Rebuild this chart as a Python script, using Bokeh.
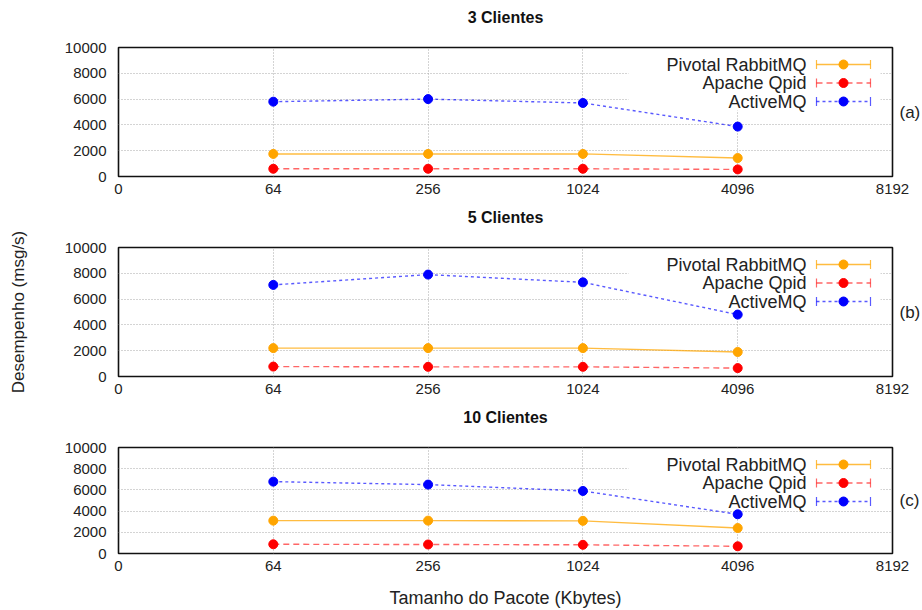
from bokeh.plotting import figure
from bokeh.layouts import column
from bokeh.models import Range1d, FixedTicker, Label, BoxAnnotation, LinearAxis
from bokeh.embed import file_html
from bokeh.resources import INLINE

# ---------------- data ----------------
tick_labels = ["0", "64", "256", "1024", "4096", "8192"]
sizes = ["64", "256", "1024", "4096"]
y_ticks = [0, 2000, 4000, 6000, 8000, 10000]
series_names = ["Pivotal RabbitMQ", "Apache Qpid", "ActiveMQ"]
panel_titles = ["3 Clientes", "5 Clientes", "10 Clientes"]
panel_tags = ["(a)", "(b)", "(c)"]

rabbit_3 = [1750, 1750, 1750, 1430]
qpid_3 = [600, 600, 600, 550]
active_3 = [5800, 6000, 5700, 3870]

rabbit_5 = [2200, 2200, 2200, 1900]
qpid_5 = [770, 750, 750, 650]
active_5 = [7100, 7900, 7300, 4800]

rabbit_10 = [3100, 3100, 3080, 2400]
qpid_10 = [870, 850, 820, 680]
active_10 = [6780, 6500, 5900, 3700]

panel_data = [
    [rabbit_3, qpid_3, active_3],
    [rabbit_5, qpid_5, active_5],
    [rabbit_10, qpid_10, active_10],
]

# ---------------- style ----------------
FONT = "Liberation Sans"
colors = ["#ffa500", "#ff0000", "#0000ff"]
dashes = ["solid", "6 4", "3 3"]
line_alphas = [0.75, 0.6, 0.65]
LEFT = 118
FRAME_W = 774
RIGHT = 30
NX = len(tick_labels) - 1
PX = FRAME_W / NX
YMAX = y_ticks[-1]
# (top border, frame height, bottom border)
geoms = [(47, 129, 24), (47, 129, 24), (47, 106, 57)]


def xd(px):
    return (px - LEFT) / PX


xs = [tick_labels.index(s) for s in sizes]

figs = []
for k, (top, fh, bottom) in enumerate(geoms):
    def yd(off, fh=fh):
        # pixel offset below the frame top -> data y
        return YMAX * (1 - off / fh)

    p = figure(frame_width=FRAME_W, frame_height=fh,
               min_border_left=LEFT, min_border_right=RIGHT,
               min_border_top=top, min_border_bottom=bottom,
               x_range=Range1d(0, NX),
               y_range=Range1d(0, YMAX),
               output_backend="svg", toolbar_location=None,
               background_fill_color="white", border_fill_color="white")
    p.outline_line_color = "#111111"
    p.outline_line_width = 1.6

    xa = p.xaxis[0]
    ya = p.yaxis[0]
    xa.ticker = FixedTicker(ticks=list(range(len(tick_labels))))
    xa.major_label_overrides = {i: t for i, t in enumerate(tick_labels)}
    ya.ticker = FixedTicker(ticks=y_ticks)

    # panel title drawn as the label of an axis above the frame
    title_axis = LinearAxis(ticker=FixedTicker(ticks=[NX / 2]),
                            major_label_overrides={NX / 2: panel_titles[k]})
    p.add_layout(title_axis, "above")
    # panel tag on the right
    tag_axis = LinearAxis(ticker=FixedTicker(ticks=[YMAX / 2]),
                          major_label_overrides={YMAX / 2: panel_tags[k]})
    p.add_layout(tag_axis, "right")

    for ax in (xa, ya, tag_axis, title_axis):
        ax.axis_line_color = None
        ax.major_tick_line_color = None
        ax.minor_tick_line_color = None
        ax.major_tick_out = 0
        ax.major_tick_in = 0
        ax.major_label_text_font = FONT
        ax.major_label_text_font_size = "15px"
        ax.major_label_text_color = "#222222"
    tag_axis.major_label_text_font_size = "17px"
    tag_axis.major_label_standoff = 7
    title_axis.major_label_text_font_size = "16px"
    title_axis.major_label_text_font_style = "bold"
    title_axis.major_label_text_color = "#111111"
    title_axis.major_label_standoff = 22
    ya.major_label_standoff = 12
    xa.major_label_standoff = 7

    for g in (p.xgrid[0], p.ygrid[0]):
        g.grid_line_color = "#a8a8a8"
        g.grid_line_dash = "1 2"
        g.grid_line_width = 1

    # legend background (white key box hiding the grid)
    box = BoxAnnotation(left=xd(628), right=xd(880), top=yd(1.5), bottom=yd(63),
                        fill_color="white", fill_alpha=1.0, line_color=None,
                        level="underlay")
    p.add_layout(box)

    for j, ys in enumerate(panel_data[k]):
        p.line(xs, ys, line_color=colors[j], line_dash=dashes[j],
               line_width=1.4, line_alpha=line_alphas[j])
        p.scatter(xs, ys, marker="circle", size=9, fill_color=colors[j],
                  line_color=colors[j])

        # legend entry (text left, sample right like gnuplot)
        off = 17 + 18.5 * j
        ly = yd(off)
        p.add_layout(Label(x=xd(806), y=ly, text=series_names[j],
                           text_align="right", text_baseline="middle",
                           text_font=FONT, text_font_size="18px",
                           text_color="#222222"))
        p.segment(x0=[xd(816)], y0=[ly], x1=[xd(870)], y1=[ly],
                  line_color=colors[j], line_dash=dashes[j], line_width=1.4,
                  line_alpha=line_alphas[j])
        cap_top, cap_bot = yd(off - 4.5), yd(off + 4.5)
        p.segment(x0=[xd(816), xd(870)], y0=[cap_bot, cap_bot],
                  x1=[xd(816), xd(870)], y1=[cap_top, cap_top],
                  line_color=colors[j], line_width=1.2, line_alpha=line_alphas[j])
        p.scatter([xd(843)], [ly], marker="circle", size=9,
                  fill_color=colors[j], line_color=colors[j])

    if k == 1:
        ya.axis_label = "Desempenho (msg/s)"
        ya.axis_label_standoff = 34
        ya.axis_label_text_font = FONT
        ya.axis_label_text_font_size = "17px"
        ya.axis_label_text_font_style = "normal"
        ya.axis_label_text_color = "#222222"
    if k == 2:
        xa.axis_label = "Tamanho do Pacote (Kbytes)"
        xa.axis_label_standoff = 14
        xa.axis_label_text_font = FONT
        xa.axis_label_text_font_size = "18px"
        xa.axis_label_text_font_style = "normal"
        xa.axis_label_text_color = "#222222"
    figs.append(p)

layout = column(*figs, spacing=0)
open("out.html", "w").write(file_html(layout, INLINE))
